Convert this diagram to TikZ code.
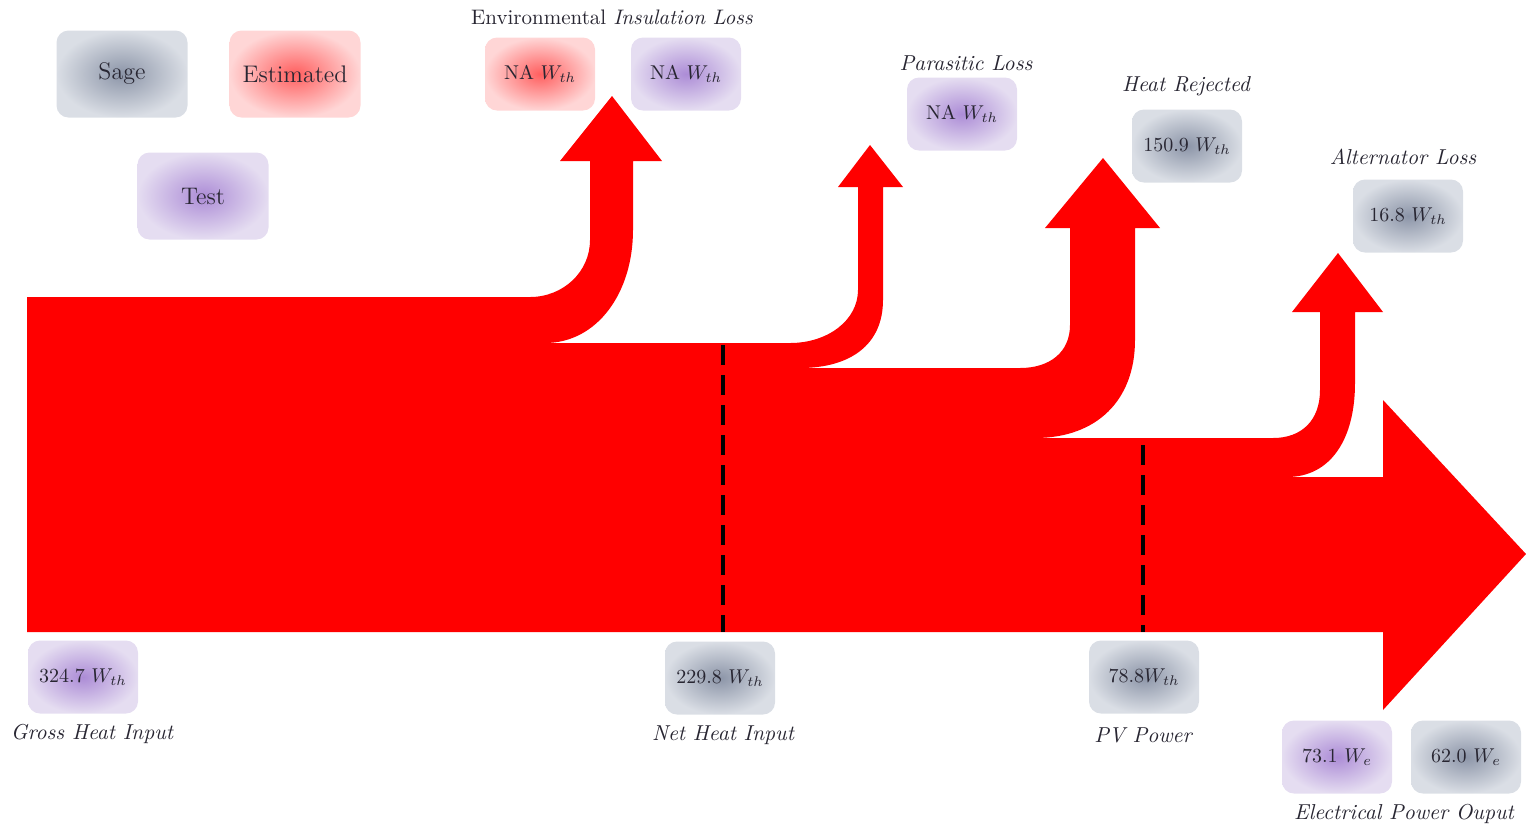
\documentclass[tikz,border=0pt]{standalone}
\usepackage{xcolor}
\definecolor{sageIn}{RGB}{140,149,168}
\definecolor{sageOut}{RGB}{218,222,229}
\definecolor{estIn}{RGB}{255,95,95}
\definecolor{estOut}{RGB}{255,214,214}
\definecolor{testIn}{RGB}{172,140,214}
\definecolor{testOut}{RGB}{229,221,241}
\definecolor{txt}{RGB}{40,38,50}
\definecolor{flow}{RGB}{255,0,0}
\begin{document}
\begin{tikzpicture}[x=0.5pt,y=-0.5pt,
  box/.style={rounded corners=6pt, shading=radial, text=txt, inner sep=0pt},
  big/.style={box, minimum width=65.5pt, minimum height=43.5pt, font=\fontsize{12}{14}\selectfont},
  small/.style={box, minimum width=55pt, minimum height=36.5pt, font=\fontsize{10}{12}\selectfont},
  sagebox/.style={inner color=sageIn, outer color=sageOut},
  estbox/.style={inner color=estIn, outer color=estOut},
  testbox/.style={inner color=testIn, outer color=testOut},
  lab/.style={text=txt, font=\fontsize{10.8}{13}\selectfont\itshape, inner sep=0pt},
  divider/.style={line width=2pt, dash pattern=on 10pt off 5pt, black}
]
\useasboundingbox (0,0) rectangle (1526,827);

% main flow
\fill[flow] (27,297) -- (530,297)
  .. controls (563,297) and (590,272) .. (590,240)
  -- (590,161) -- (560,161) -- (612,96) -- (662,161) -- (633,161) -- (633,230)
  .. controls (633,293) and (597,343) .. (545,343)
  -- (790,343)
  .. controls (828,343) and (858,320) .. (858,290)
  -- (858,187) -- (838,187) -- (870,145) -- (903,187) -- (883,187) -- (883,300)
  .. controls (883,345) and (850,368) .. (800,368)
  -- (1020,368)
  .. controls (1050,368) and (1070,352) .. (1070,325)
  -- (1070,228) -- (1045,228) -- (1103,158) -- (1160,228) -- (1135,228) -- (1135,340)
  .. controls (1135,400) and (1097,438) .. (1035,438)
  -- (1273,438)
  .. controls (1302,438) and (1320,420) .. (1320,390)
  -- (1320,312) -- (1292,312) -- (1338,253) -- (1383,312) -- (1355,312) -- (1355,383)
  .. controls (1355,440) and (1330,477) .. (1287,477)
  -- (1383,477) -- (1383,400) -- (1526,554) -- (1383,710) -- (1383,632) -- (27,632) -- cycle;

% dividers
\coordinate (d1t) at (723,345);
\coordinate (d1b) at (723,632);
\coordinate (d2t) at (1143,445);
\coordinate (d2b) at (1143,632);
\draw[divider] (d1t) -- (d1b);
\draw[divider] (d2t) -- (d2b);

% legend
\node[big, sagebox] (sage) at (122,74) {Sage};
\node[big, estbox] (est) at (295,74) {Estimated};
\node[big, testbox] (test) at (203,196) {Test};

% insulation loss
\node[lab, font=\fontsize{10.5}{13}\selectfont] (envlab) at (612,17) {Environmental \textit{Insulation Loss}};
\node[small, estbox] (insE) at (540,74) {NA $W_{th}$};
\node[small, testbox] (insT) at (686,74) {NA $W_{th}$};

% parasitic
\node[lab] (parlab) at (966,63) {Parasitic Loss};
\node[small, testbox] (parT) at (962,114) {NA $W_{th}$};

% heat rejected
\node[lab] (hrlab) at (1186,86) {Heat Rejected};
\node[small, sagebox] (hrS) at (1187,146) {150.9 $W_{th}$};

% alternator
\node[lab] (altlab) at (1403,157) {Alternator Loss};
\node[small, sagebox] (altS) at (1408,216) {16.8 $W_{th}$};

% bottom values
\node[small, testbox] (grossT) at (83,677) {324.7 $W_{th}$};
\node[lab] (grosslab) at (92,734) {Gross Heat Input};
\node[small, sagebox] (netS) at (720,678) {229.8 $W_{th}$};
\node[lab] (netlab) at (723,735) {Net Heat Input};
\node[small, sagebox] (pvS) at (1144,677) {78.8$W_{th}$};
\node[lab] (pvlab) at (1143,735) {PV Power};
\node[small, testbox] (elT) at (1337,757) {73.1 $W_{e}$};
\node[small, sagebox] (elS) at (1466,757) {62.0 $W_{e}$};
\node[lab] (ellab) at (1404,814) {Electrical Power Ouput};
\end{tikzpicture}
\end{document}
